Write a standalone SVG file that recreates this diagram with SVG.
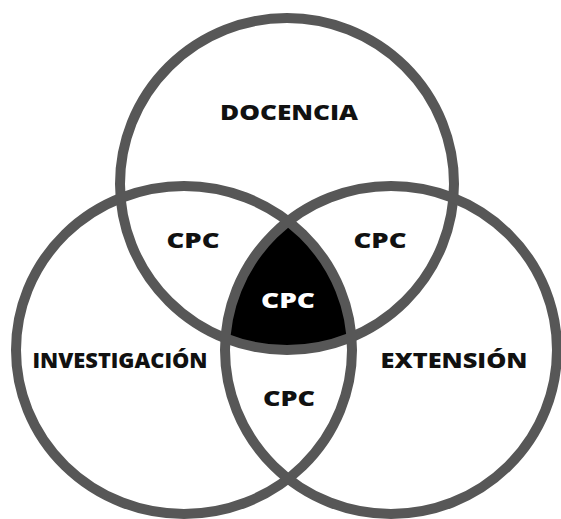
<svg xmlns="http://www.w3.org/2000/svg" width="561" height="519" viewBox="0 0 561 519">
  <style>
    .ring { fill: none; stroke: #575757; stroke-width: 10; }
    .lbl { font-family: "Open Sans", "DejaVu Sans", sans-serif; font-weight: 800; font-size: 21px; fill: #111111; text-anchor: middle; }
    .inv { fill: #ffffff; }
  </style>
  <defs>
    <clipPath id="clipLeft">
      <ellipse cx="184" cy="350" rx="168" ry="164"/>
    </clipPath>
    <clipPath id="clipRight">
      <ellipse cx="391" cy="350" rx="166" ry="164"/>
    </clipPath>
  </defs>
  <rect x="0" y="0" width="561" height="519" fill="#ffffff"/>

  <g id="center-region" clip-path="url(#clipLeft)">
    <g clip-path="url(#clipRight)">
      <ellipse cx="287" cy="184" rx="167" ry="166" fill="#000000"/>
    </g>
  </g>

  <g id="connectors"></g>

  <g id="docencia">
    <ellipse class="ring" cx="287" cy="184" rx="167" ry="166"/>
    <text class="lbl" x="289" y="120" textLength="138" lengthAdjust="spacingAndGlyphs">DOCENCIA</text>
  </g>
  <g id="investigacion">
    <ellipse class="ring" cx="184" cy="350" rx="168" ry="164"/>
    <text class="lbl" x="120" y="368" textLength="175" lengthAdjust="spacingAndGlyphs">INVESTIGACIÓN</text>
  </g>
  <g id="extension">
    <ellipse class="ring" cx="391" cy="350" rx="166" ry="164"/>
    <text class="lbl" x="454" y="368" textLength="147" lengthAdjust="spacingAndGlyphs">EXTENSIÓN</text>
  </g>
  <g id="cpc-doc-inv">
    <text class="lbl" x="193" y="248" textLength="53" lengthAdjust="spacingAndGlyphs">CPC</text>
  </g>
  <g id="cpc-doc-ext">
    <text class="lbl" x="380" y="248" textLength="53" lengthAdjust="spacingAndGlyphs">CPC</text>
  </g>
  <g id="cpc-center">
    <text class="lbl inv" x="288" y="308" textLength="54" lengthAdjust="spacingAndGlyphs">CPC</text>
  </g>
  <g id="cpc-inv-ext">
    <text class="lbl" x="289" y="406" textLength="52" lengthAdjust="spacingAndGlyphs">CPC</text>
  </g>
</svg>
